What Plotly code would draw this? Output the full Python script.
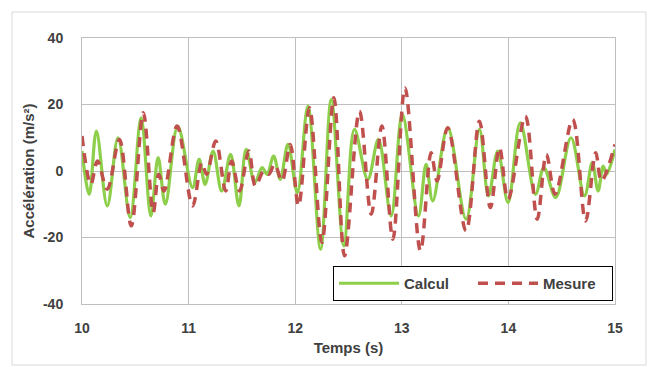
import plotly.graph_objects as go

# Calcul (green) - times (s) and accelerations (m/s²) at turning points
calc_t = [10.0, 10.068, 10.135, 10.237, 10.338, 10.452, 10.554, 10.646, 10.714, 10.782, 10.898,
          11.037, 11.099, 11.155, 11.23, 11.31, 11.394, 11.472, 11.54, 11.621, 11.689, 11.736,
          11.798, 11.86, 11.932, 12.02, 12.119, 12.238, 12.338, 12.456, 12.556, 12.681, 12.781,
          12.9, 13.005, 13.156, 13.228, 13.29, 13.431, 13.603, 13.728, 13.813, 13.9, 13.997,
          14.111, 14.254, 14.333, 14.444, 14.587, 14.714, 14.787, 14.841, 14.889, 14.92, 15.0]
calc_a = [6, -7, 12, -10.5, 10, -14, 16, -13.5, 4, -10, 13.5,
          -5, 3.5, -4, 6, -6, 5, -10.5, 6.5, -3.5, 1, -1,
          4.5, -2.5, 8, -6.5, 19.5, -23.5, 21.5, -22.5, 12.5, -2.5, 9.5,
          -13.5, 17, -13.5, 2, -9, 13, -14.5, 12.5, -7.5, 6, -9.5,
          14.5, -7, 1, -8, 10, -7.5, 2.5, -6, 1.5, -1, 6.5]

# Mesure (red dashed)
mes_t = [10.0, 10.083, 10.145, 10.237, 10.351, 10.462, 10.575, 10.668, 10.72, 10.77, 10.892,
         11.037, 11.124, 11.168, 11.255, 11.348, 11.404, 11.478, 11.565, 11.627, 11.705, 11.752,
         11.807, 11.876, 11.953, 12.031, 12.134, 12.25, 12.363, 12.463, 12.603, 12.713, 12.813,
         12.916, 13.03, 13.175, 13.275, 13.331, 13.431, 13.603, 13.728, 13.831, 13.916, 13.997,
         14.159, 14.27, 14.356, 14.438, 14.603, 14.724, 14.819, 14.873, 15.0]
mes_a = [10.5, -4, 3, -5.5, 9.5, -16.5, 17.5, -12.5, -1, -6, 13.5,
         -10.5, 2.5, -1, 9, -6, 3, -6, 6, -4.5, 0, -1,
         2, -3, 8, -10.5, 19, -21.5, 22, -25.5, 18, -13, 13.5,
         -20.5, 25, -24, 5.5, -3, 13, -18, 15, -11, 7, -8.5,
         16.5, -14.5, 5, -7, 15.5, -15, 5.5, -3, 8]

x_ticks = [10, 11, 12, 13, 14, 15]
y_ticks = [-40, -20, 0, 20, 40]

fig = go.Figure()
fig.add_trace(go.Scatter(x=calc_t, y=calc_a, name="Calcul", mode="lines",
                         line=dict(color="#8DCF4A", width=3.2, shape="spline", smoothing=1.0)))
fig.add_trace(go.Scatter(x=mes_t, y=mes_a, name="Mesure", mode="lines",
                         line=dict(color="#C0504D", width=3.5, dash="10px,7px",
                                   shape="spline", smoothing=1.0)))

W, H = 652, 367
L, R, T, B = 82, 37, 38, 63
pw, ph = W - L - R, H - T - B

def px(xp):
    return (xp - L) / pw

def py(yp):
    return (H - B - yp) / ph

fig.update_layout(
    width=W, height=H,
    margin=dict(l=L, r=R, t=T, b=B, autoexpand=False),
    paper_bgcolor="white", plot_bgcolor="white",
    font=dict(family="Liberation Sans, Arial, sans-serif", color="#404040"),
    showlegend=True,
    legend=dict(orientation="h", x=px(333), y=py(266), xanchor="left", yanchor="top",
                bgcolor="white", bordercolor="#000000", borderwidth=1,
                font=dict(size=15, color="#404040", weight="bold"),
                itemwidth=60, tracegroupgap=0,
                entrywidth=64, entrywidthmode="pixels"),
    xaxis=dict(range=[10, 15], tickvals=x_ticks, ticktext=[str(v) for v in x_ticks],
               showgrid=True, gridcolor="#BFBFBF", gridwidth=1, zeroline=False,
               showline=True, linecolor="#BFBFBF", mirror=True, ticks="",
               ticklabelstandoff=11,
               tickfont=dict(size=14, color="#404040", weight="bold"),
               title=dict(text="Temps (s)", standoff=7,
                          font=dict(size=15, color="#404040", weight="bold"))),
    yaxis=dict(range=[-40, 40], tickvals=y_ticks, ticktext=[str(v) for v in y_ticks],
               showgrid=True, gridcolor="#BFBFBF", gridwidth=1, zeroline=False,
               showline=True, linecolor="#BFBFBF", mirror=True, ticks="",
               ticklabelstandoff=15,
               tickfont=dict(size=14, color="#404040", weight="bold"),
               title=dict(text="Accélération (m/s²)", standoff=4,
                          font=dict(size=15, color="#404040", weight="bold"))),
    shapes=[dict(type="rect", xref="paper", yref="paper",
                 x0=px(12), x1=px(646), y0=py(365), y1=py(12),
                 line=dict(color="#D9D9D9", width=1), fillcolor="rgba(0,0,0,0)",
                 layer="below")],
)

fig.write_html("out.html")
